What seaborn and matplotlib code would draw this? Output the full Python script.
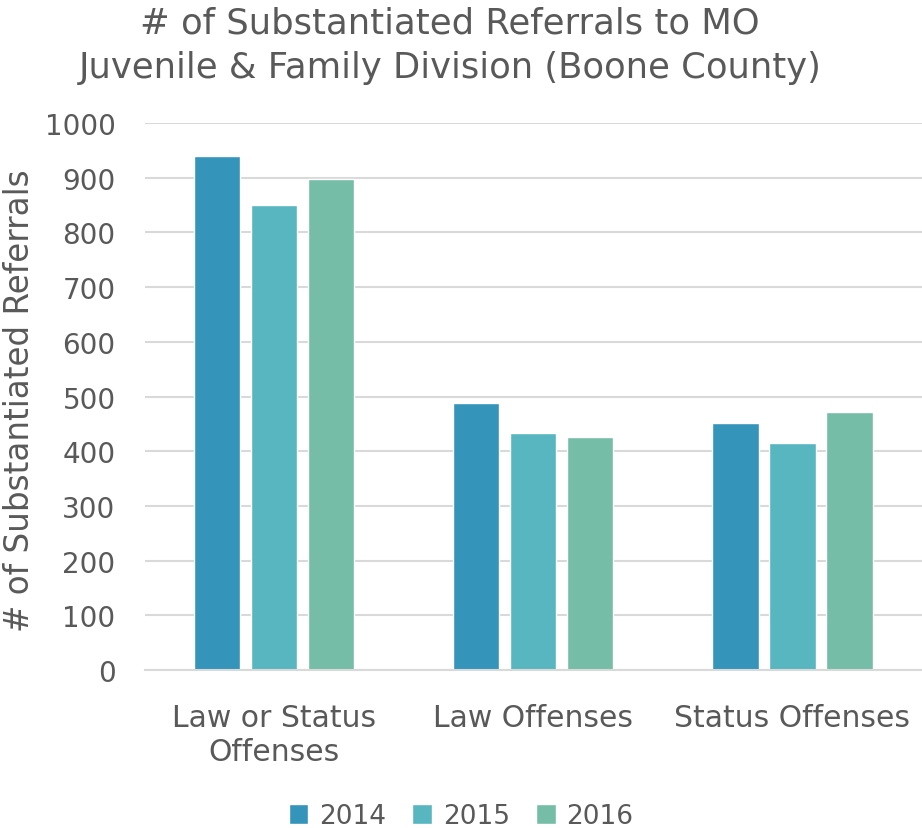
import pandas as pd
import matplotlib.pyplot as plt
import seaborn as sns

# --- Data ---
categories = ['Law or Status\nOffenses', 'Law Offenses', 'Status Offenses']
years = ['2014', '2015', '2016']
referrals_2014 = [939, 488, 451]
referrals_2015 = [850, 434, 415]
referrals_2016 = [897, 426, 471]

colors = ['#3494BA', '#58B6C0', '#75BDA7']
TEXT = '#595959'

df = pd.DataFrame({
    'category': categories * 3,
    'year': [y for y in years for _ in categories],
    'value': referrals_2014 + referrals_2015 + referrals_2016,
})

sns.set_theme(style='white')
plt.rcParams['font.family'] = ['DejaVu Sans']

fig = plt.figure(figsize=(9.22, 8.29), dpi=100)
ax = fig.add_axes([0.157, 0.1906, 0.843, 0.6598])

sns.barplot(data=df, x='category', y='value', hue='year', order=categories,
            hue_order=years, palette=colors, width=0.66, gap=0.19,
            saturation=1, ax=ax, legend=True)

ax.set_ylim(0, 1000)
ax.set_xlim(-0.5, 2.5)
ax.set_yticks(range(0, 1001, 100))
ax.yaxis.grid(True, color='#D9D9D9', linewidth=1.5)
ax.set_axisbelow(True)
for s in ['top', 'right', 'left']:
    ax.spines[s].set_visible(False)
ax.spines['bottom'].set_color('#D9D9D9')
ax.spines['bottom'].set_linewidth(1.5)
ax.tick_params(axis='y', length=0, labelsize=20, colors=TEXT, pad=21)
ax.tick_params(axis='x', length=0, labelsize=21.5, colors=TEXT, pad=24)
for lbl in ax.get_xticklabels():
    lbl.set_linespacing(1.2)
ax.set_xlabel('')
ax.set_ylabel('')

# y-axis title placed in figure coords so it stays inside the canvas
fig.text(0.021, 0.517, '# of Substantiated Referrals', rotation=90,
         ha='center', va='center', fontsize=23.5, color=TEXT)

fig.text(0.488, 0.992, '# of Substantiated Referrals to MO\nJuvenile & Family Division (Boone County)',
         ha='center', va='top', fontsize=25.5, color=TEXT, linespacing=1.4)

handles, labels = ax.get_legend_handles_labels()
ax.legend_.remove()
fig.legend(handles, labels, loc='lower center', bbox_to_anchor=(0.5, -0.03),
           ncol=3, frameon=False, fontsize=19, labelcolor=TEXT,
           handlelength=0.75, handleheight=0.75, handletextpad=0.4, columnspacing=1.0)

fig.savefig('out.png', dpi=100)
